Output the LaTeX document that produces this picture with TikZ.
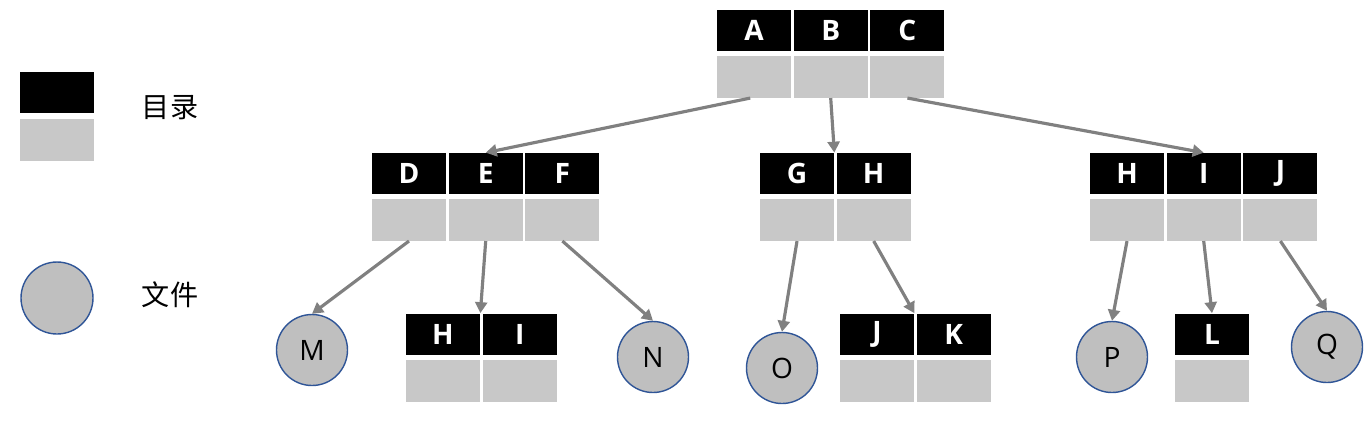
\documentclass[tikz,border=0pt]{standalone}
\usepackage{fontspec}
\setmainfont{Open Sans}
\newfontfamily\cjk{Noto Sans CJK SC}
\usepackage{tikz}
\usetikzlibrary{positioning,arrows.meta}
\definecolor{cellgray}{HTML}{C8C8C8}
\definecolor{filegray}{HTML}{BFBFBF}
\definecolor{fileblue}{HTML}{2F5597}
\definecolor{linkgray}{HTML}{808080}

\begin{document}
\begin{tikzpicture}[
    font=\fontsize{16}{19}\selectfont,
    node distance=0.04cm,
    namecell/.style={fill=black, text=white, minimum width=1.48cm, minimum height=0.82cm,
                     inner sep=0pt, font=\fontsize{16}{19}\selectfont\bfseries},
    blank/.style={fill=cellgray, minimum width=1.48cm, minimum height=0.84cm, inner sep=0pt},
    file/.style={circle, draw=fileblue, fill=filegray, minimum size=1.42cm, inner sep=0pt,
                 line width=0.8pt},
    link/.style={draw=linkgray, line width=1.8pt, -{Triangle[length=2.2mm, width=2.4mm]}}
]
\useasboundingbox (0,0) rectangle (27.42,-8.62);
% legend
\node[namecell] (keyname) at (1.14,-1.85) {};
\node[blank, below=0.1cm of keyname] (keyblank) {};
\node (keydir) at (3.40,-2.16) {\cjk 目录};
\node[file, minimum size=1.44cm] (keyfile) at (1.14,-5.96) {};
\node (keyfiletext) at (3.40,-5.90) {\cjk 文件};
% root
\node[namecell] (A) at (15.08,-0.61) {A};
\node[namecell, right=of A] (B) {B};
\node[namecell, right=of B] (C) {C};
\node[blank, below=0.08cm of A] (gA) {};
\node[blank, below=0.08cm of B] (gB) {};
\node[blank, below=0.08cm of C] (gC) {};
% second level
\node[namecell] (D) at (8.18,-3.47) {D};
\node[namecell, right=of D] (E) {E};
\node[namecell, right=of E] (F) {F};
\node[blank, below=0.08cm of D] (gD) {};
\node[blank, below=0.08cm of E] (gE) {};
\node[blank, below=0.08cm of F] (gF) {};
\node[namecell] (G) at (15.94,-3.47) {G};
\node[namecell, right=of G] (H) {H};
\node[blank, below=0.08cm of G] (gG) {};
\node[blank, below=0.08cm of H] (gH) {};
\node[namecell] (rH) at (22.54,-3.47) {H};
\node[namecell, right=of rH] (rI) {I};
\node[namecell, right=of rI] (rJ) {J};
\node[blank, below=0.08cm of rH] (grH) {};
\node[blank, below=0.08cm of rI] (grI) {};
\node[blank, below=0.08cm of rJ] (grJ) {};
% third level
\node[namecell] (bH) at (8.86,-6.68) {H};
\node[namecell, right=of bH] (bI) {I};
\node[blank, below=0.1cm of bH] (gbH) {};
\node[blank, below=0.1cm of bI] (gbI) {};
\node[namecell] (bJ) at (17.54,-6.68) {J};
\node[namecell, right=of bJ] (bK) {K};
\node[blank, below=0.1cm of bJ] (gbJ) {};
\node[blank, below=0.1cm of bK] (gbK) {};
\node[namecell] (L) at (24.24,-6.68) {L};
\node[blank, below=0.1cm of L] (gL) {};
\node[file] (M) at (6.24,-7.00) {M};
\node[file] (N) at (13.06,-7.14) {N};
\node[file] (O) at (15.64,-7.36) {O};
\node[file] (P) at (22.24,-7.14) {P};
\node[file] (Q) at (26.54,-6.94) {Q};
% links
\draw[link] (gA.260) -- (E.north);
\draw[link] (gB.south) -- (G.north east);
\draw[link] (gC.south) -- (rI.north);
\draw[link] (gD.south) -- (M.north);
\draw[link] (gE.south) -- (bH.north east);
\draw[link] (gF.south) -- (N.north);
\draw[link] (gG.south) -- (O.north);
\draw[link] (gH.south) -- (bJ.north east);
\draw[link] (grH.south) -- (P.north);
\draw[link] (grI.south) -- (L.north);
\draw[link] (grJ.south) -- (Q.north);
\end{tikzpicture}
\end{document}
